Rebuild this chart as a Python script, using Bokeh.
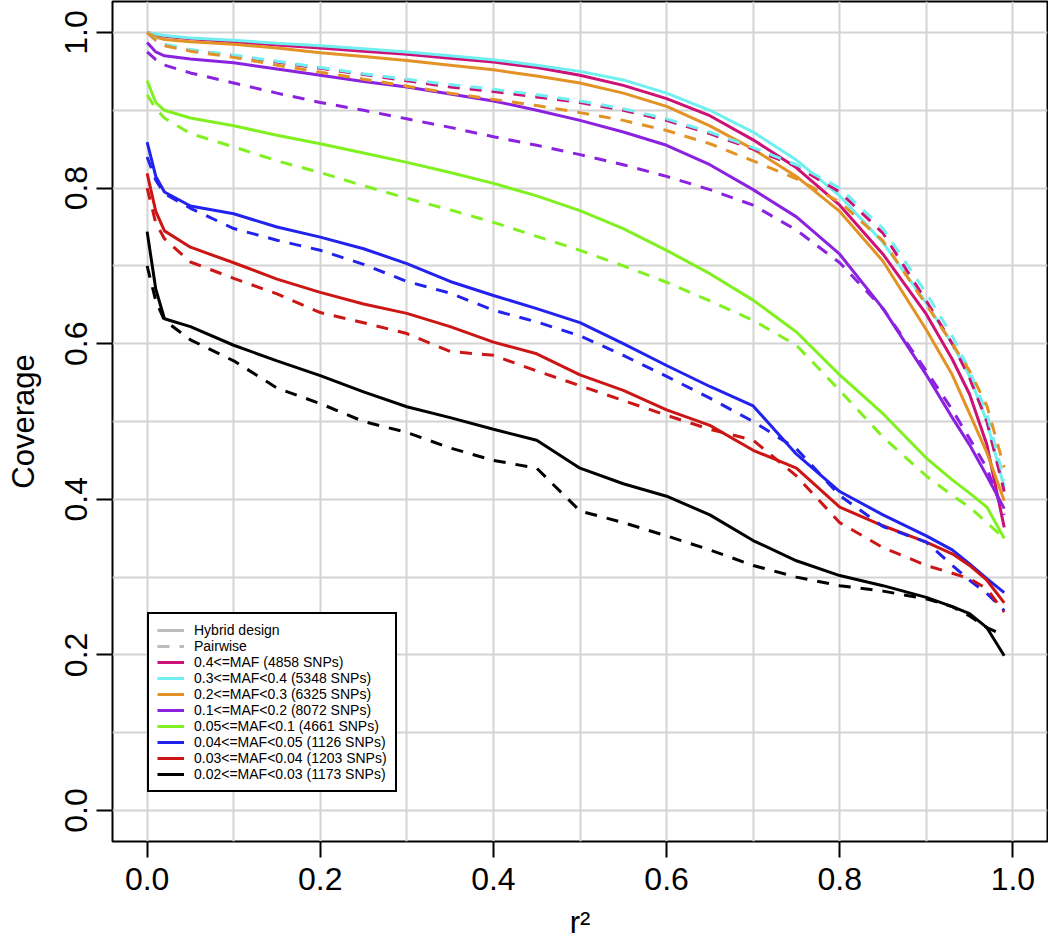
from bokeh.plotting import figure
from bokeh.models import Range1d, FixedTicker, PrintfTickFormatter, Legend, LegendItem
from bokeh.embed import file_html
from bokeh.resources import INLINE

# ---- data ----
r2 = [0.0, 0.01, 0.02, 0.05, 0.1, 0.15, 0.2, 0.25, 0.3, 0.35, 0.4, 0.45, 0.5,
      0.55, 0.6, 0.65, 0.7, 0.75, 0.8, 0.85, 0.9, 0.93, 0.95, 0.97, 0.99]

labels = ["0.4<=MAF (4858 SNPs)", "0.3<=MAF<0.4 (5348 SNPs)", "0.2<=MAF<0.3 (6325 SNPs)",
          "0.1<=MAF<0.2 (8072 SNPs)", "0.05<=MAF<0.1 (4661 SNPs)", "0.04<=MAF<0.05 (1126 SNPs)",
          "0.03<=MAF<0.04 (1203 SNPs)", "0.02<=MAF<0.03 (1173 SNPs)"]
colors = ["#CC1177", "#6FEFEF", "#E39225", "#8B22E0", "#80F020", "#2222EE", "#CC1515", "#000000"]

hybrid_maf40 = [1.0, 0.997, 0.995, 0.992, 0.988, 0.984, 0.98, 0.976, 0.972, 0.967, 0.962, 0.955, 0.945,
                0.932, 0.915, 0.893, 0.862, 0.826, 0.778, 0.715, 0.638, 0.58, 0.535, 0.47, 0.364]
hybrid_maf30 = [1.0, 0.998, 0.996, 0.993, 0.99, 0.986, 0.983, 0.979, 0.975, 0.97, 0.965, 0.958, 0.95,
                0.939, 0.922, 0.9, 0.872, 0.836, 0.79, 0.73, 0.652, 0.6, 0.558, 0.5, 0.415]
hybrid_maf20 = [1.0, 0.994, 0.991, 0.988, 0.985, 0.98, 0.974, 0.969, 0.964, 0.958, 0.952, 0.944, 0.935,
                0.922, 0.905, 0.88, 0.85, 0.815, 0.77, 0.706, 0.618, 0.56, 0.51, 0.46, 0.398]
hybrid_maf10 = [0.987, 0.975, 0.97, 0.966, 0.961, 0.953, 0.945, 0.937, 0.93, 0.921, 0.912, 0.9, 0.887,
                0.872, 0.855, 0.83, 0.798, 0.763, 0.715, 0.645, 0.56, 0.505, 0.47, 0.43, 0.388]
hybrid_maf05 = [0.938, 0.91, 0.9, 0.89, 0.88, 0.868, 0.857, 0.845, 0.833, 0.82, 0.806, 0.79, 0.771,
                0.748, 0.72, 0.69, 0.656, 0.615, 0.56, 0.51, 0.453, 0.425, 0.408, 0.39, 0.35]
hybrid_maf04 = [0.859, 0.815, 0.795, 0.777, 0.767, 0.75, 0.737, 0.722, 0.703, 0.68, 0.662, 0.645, 0.627,
                0.6, 0.572, 0.545, 0.52, 0.458, 0.41, 0.38, 0.353, 0.335, 0.317, 0.298, 0.28]
hybrid_maf03 = [0.819, 0.77, 0.745, 0.724, 0.704, 0.683, 0.666, 0.651, 0.639, 0.622, 0.602, 0.587, 0.56,
                0.54, 0.515, 0.495, 0.463, 0.44, 0.39, 0.366, 0.345, 0.33, 0.315, 0.296, 0.267]
hybrid_maf02 = [0.744, 0.67, 0.632, 0.622, 0.598, 0.578, 0.559, 0.538, 0.519, 0.505, 0.49, 0.476, 0.44,
                0.42, 0.404, 0.38, 0.347, 0.321, 0.302, 0.289, 0.274, 0.262, 0.253, 0.235, 0.199]

pair_maf40 = [1.0, 0.99, 0.984, 0.977, 0.97, 0.962, 0.954, 0.946, 0.938, 0.93, 0.924, 0.917, 0.91,
              0.9, 0.887, 0.87, 0.85, 0.828, 0.795, 0.742, 0.655, 0.6, 0.556, 0.5, 0.41]
pair_maf30 = [1.0, 0.991, 0.985, 0.978, 0.971, 0.963, 0.955, 0.947, 0.94, 0.933, 0.927, 0.92, 0.912,
              0.902, 0.889, 0.872, 0.852, 0.83, 0.8, 0.748, 0.665, 0.61, 0.565, 0.51, 0.424]
pair_maf20 = [1.0, 0.99, 0.983, 0.976, 0.968, 0.958, 0.949, 0.94, 0.931, 0.922, 0.914, 0.906, 0.897,
              0.887, 0.874, 0.857, 0.835, 0.812, 0.782, 0.732, 0.65, 0.6, 0.565, 0.52, 0.441]
pair_maf10 = [0.975, 0.965, 0.958, 0.948, 0.935, 0.922, 0.91, 0.9, 0.889, 0.878, 0.866, 0.855, 0.843,
              0.83, 0.815, 0.798, 0.778, 0.746, 0.704, 0.645, 0.565, 0.515, 0.478, 0.44, 0.38]
pair_maf05 = [0.92, 0.902, 0.89, 0.87, 0.853, 0.835, 0.82, 0.803, 0.787, 0.772, 0.756, 0.738, 0.72,
              0.7, 0.679, 0.655, 0.63, 0.598, 0.54, 0.48, 0.43, 0.405, 0.39, 0.37, 0.35]
pair_maf04 = [0.84, 0.81, 0.793, 0.774, 0.748, 0.733, 0.72, 0.702, 0.68, 0.665, 0.643, 0.628, 0.61,
              0.585, 0.558, 0.53, 0.5, 0.465, 0.405, 0.365, 0.345, 0.315, 0.296, 0.279, 0.257]
pair_maf03 = [0.80, 0.755, 0.735, 0.705, 0.684, 0.664, 0.64, 0.627, 0.613, 0.59, 0.585, 0.565, 0.546,
              0.527, 0.508, 0.49, 0.476, 0.43, 0.37, 0.338, 0.315, 0.305, 0.298, 0.285, 0.255]
pair_maf02 = [0.70, 0.655, 0.63, 0.605, 0.578, 0.543, 0.523, 0.5, 0.486, 0.466, 0.45, 0.44, 0.385,
              0.37, 0.353, 0.335, 0.315, 0.3, 0.289, 0.282, 0.272, 0.262, 0.25, 0.235, 0.225]

hybrid = [hybrid_maf40, hybrid_maf30, hybrid_maf20, hybrid_maf10,
          hybrid_maf05, hybrid_maf04, hybrid_maf03, hybrid_maf02]
pairwise = [pair_maf40, pair_maf30, pair_maf20, pair_maf10,
            pair_maf05, pair_maf04, pair_maf03, pair_maf02]

axis_ticks = [0.0, 0.2, 0.4, 0.6, 0.8, 1.0]
grid_ticks = [0.0, 0.1, 0.2, 0.3, 0.4, 0.5, 0.6, 0.7, 0.8, 0.9, 1.0]

# ---- figure ----
FONT = "Liberation Sans"
p = figure(width=1048, height=944, output_backend="svg", toolbar_location=None,
           x_range=Range1d(-0.04, 1.04), y_range=Range1d(-0.0398, 1.0398),
           min_border_left=112, min_border_right=1, min_border_top=1, min_border_bottom=103)
p.background_fill_color = "white"
p.border_fill_color = "white"
p.outline_line_color = "black"
p.outline_line_width = 2
p.outline_line_alpha = 1.0

for ax in (p.xaxis[0], p.yaxis[0]):
    ax.ticker = FixedTicker(ticks=axis_ticks)
    ax.formatter = PrintfTickFormatter(format="%.1f")
    ax.axis_line_color = None
    ax.major_tick_line_color = "black"
    ax.major_tick_line_width = 2
    ax.major_tick_in = 0
    ax.major_tick_out = 16
    ax.minor_tick_line_color = None
    ax.major_label_text_font = FONT
    ax.major_label_text_font_size = "32px"
    ax.major_label_text_color = "black"
    ax.axis_label_text_font = FONT
    ax.axis_label_text_font_size = "31px"
    ax.axis_label_text_font_style = "normal"
    ax.axis_label_text_color = "black"

p.xaxis.axis_label = "r²"
p.xaxis.major_label_standoff = 10
p.xaxis.axis_label_standoff = 12
p.yaxis.axis_label = "Coverage"
p.yaxis.major_label_orientation = "vertical"
p.yaxis.major_label_standoff = 9
p.yaxis.axis_label_standoff = 22

for g in (p.xgrid[0], p.ygrid[0]):
    g.ticker = FixedTicker(ticks=grid_ticks)
    g.grid_line_color = "#d3d3d3"
    g.grid_line_width = 2

# legend key renderers (drawn outside the visible range)
key_x = [-5.0, -4.0]
key_y = [-5.0, -5.0]
r_h = p.line(key_x, key_y, line_color="#BBBBBB", line_width=3)
r_p = p.line(key_x, key_y, line_color="#BBBBBB", line_width=3, line_dash="12 10")
items = [LegendItem(label="Hybrid design", renderers=[r_h]),
         LegendItem(label="Pairwise", renderers=[r_p])]

for ys, c, lab in zip(hybrid, colors, labels):
    r = p.line(r2, ys, line_color=c, line_width=3)
    items.append(LegendItem(label=lab, renderers=[r]))
for ys, c in zip(pairwise, colors):
    p.line(r2, ys, line_color=c, line_width=3, line_dash="12 10")

legend = Legend(items=items, location=(35, 49))
legend.label_text_font = FONT
legend.label_text_font_size = "14px"
legend.label_text_color = "black"
legend.label_height = 16
legend.glyph_height = 16
legend.glyph_width = 27
legend.label_standoff = 10
legend.spacing = 0
legend.padding = 8
legend.margin = 0
legend.border_line_color = "black"
legend.border_line_width = 2
legend.border_line_alpha = 1.0
legend.background_fill_color = "white"
legend.background_fill_alpha = 1.0
p.add_layout(legend, "center")

open("out.html", "w").write(file_html(p, INLINE))
